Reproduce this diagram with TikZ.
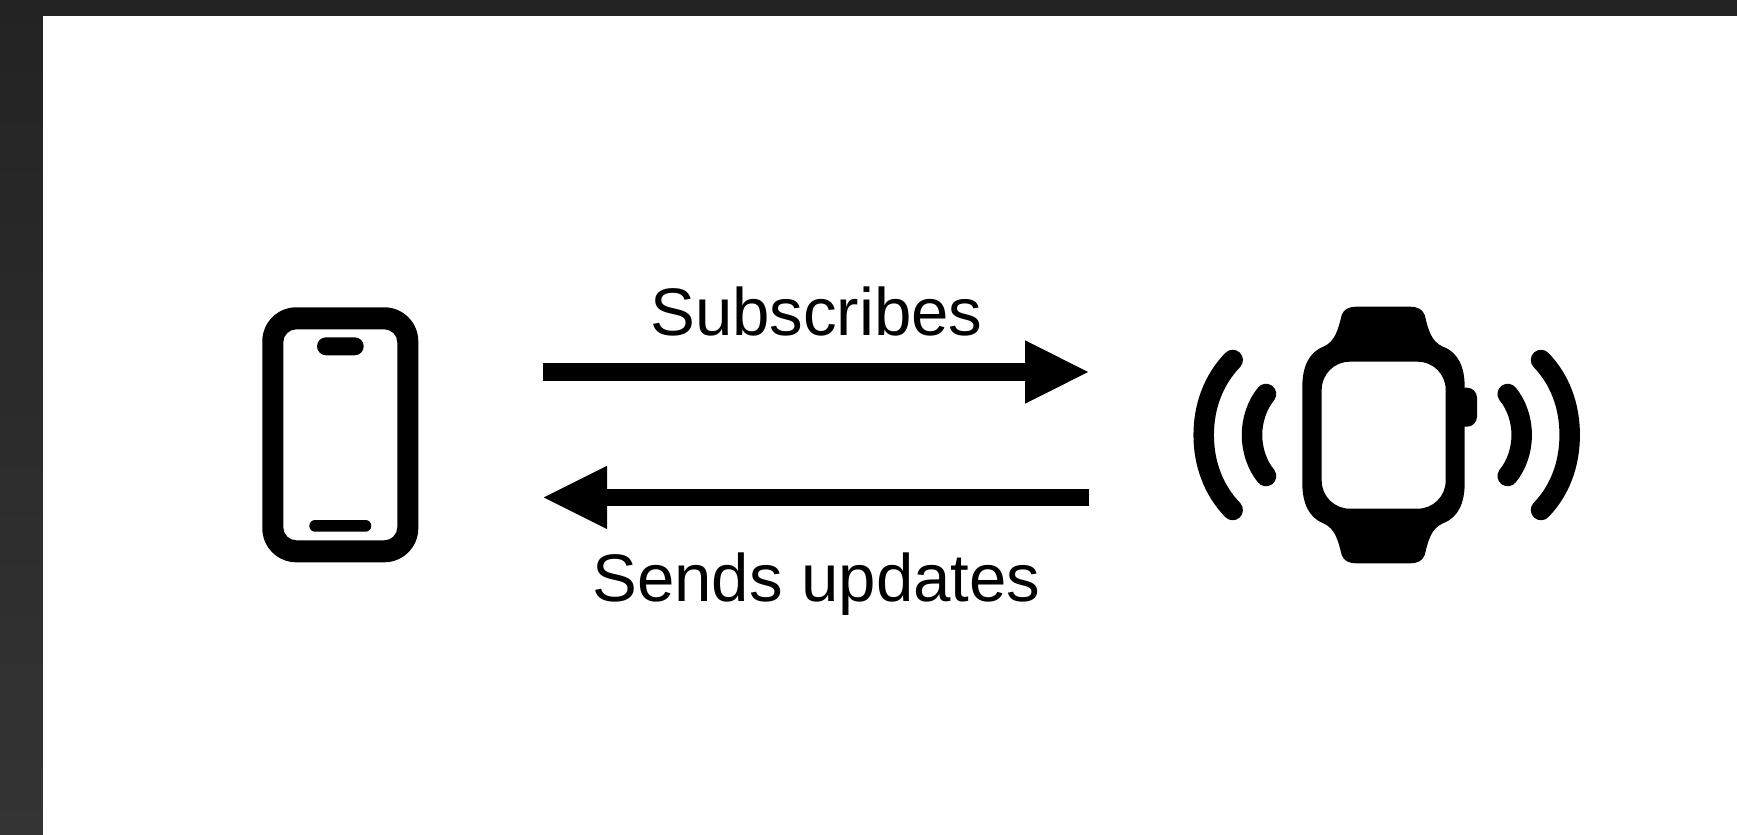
\documentclass[tikz,border=0pt]{standalone}
\usepackage{fontspec}
\setmainfont{Liberation Sans}
\usetikzlibrary{arrows.meta}
\definecolor{frameTop}{HTML}{232323}
\definecolor{frameLow}{HTML}{343434}
\begin{document}
\begin{tikzpicture}
% one unit is one pixel of the reference
\def\pxsz{0.5pt}
\providecommand{\syncShaftWidth}{8.75pt}
\providecommand{\syncWaveWidth}{10.25pt}
\providecommand{\syncLabelSize}{33.6}
\tikzset{
  shaftline/.style={line width=\syncShaftWidth, -{Triangle[length=32.5pt, width=29pt]}},
  waveline/.style={line width=\syncWaveWidth, line cap=round},
  synclabel/.style={anchor=base, inner sep=0pt, font=\fontsize{\syncLabelSize}{40}\selectfont},
}
\begin{scope}[x=\pxsz, y=-\pxsz]
  \useasboundingbox (0,0) rectangle (1737,835);
  % Window frame and page
  \fill[frameTop] (0,0) rectangle (1737,16);
  \shade[top color=frameTop, bottom color=frameLow] (0,0) rectangle (43,835);
  \fill[white] (43,16) rectangle (1737,835);
  % Phone
  \begin{scope}[even odd rule]
    \fill[rounded corners=17pt] (262.3,307.3) rectangle (418.3,562.3)
      [rounded corners=6.5pt] (283.3,329.3) rectangle (397.3,540.3);
  \end{scope}
  \fill[rounded corners=4.5pt] (317,337.3) rectangle (363.7,355.3);
  \fill[rounded corners=2.9pt] (309.3,520) rectangle (371.3,531.7);
  % Watch body with strap
  \fill[even odd rule] (1302.3,387) .. controls (1302.3,366.7) and (1309,352.3) .. (1323.3,346.7)
    .. controls (1335,341.7) and (1338,330) .. (1341.7,315)
    .. controls (1344,309.3) and (1348.3,306.7) .. (1356.7,306.7) -- (1409.7,306.7)
    .. controls (1418,306.7) and (1422.3,309.3) .. (1424.7,315)
    .. controls (1428.3,330) and (1431.3,341.7) .. (1443,346.7)
    .. controls (1458,352.3) and (1464.7,366.7) .. (1464.7,387) -- (1464.7,483)
    .. controls (1464.7,503.3) and (1458,517.7) .. (1443,523.3)
    .. controls (1431.3,528.3) and (1428.3,540) .. (1424.7,555)
    .. controls (1422.3,560.7) and (1418,563.3) .. (1409.7,563.3) -- (1356.7,563.3)
    .. controls (1348.3,563.3) and (1344,560.7) .. (1341.7,555)
    .. controls (1338,540) and (1335,528.3) .. (1323.3,523.3)
    .. controls (1309,517.7) and (1302.3,503.3) .. (1302.3,483) -- cycle
    [rounded corners=14pt] (1321.7,361.7) rectangle (1445.7,508.7);
  % Watch crown
  \fill[rounded corners=5pt] (1455,387.7) -- (1477,387.7) -- (1477,426.7) -- (1455,426.7) -- cycle;
  % Waves on both sides
  \draw[waveline] (1232.7,360) .. controls (1213.3,380) and (1203.7,406.7) .. (1203.7,435)
    .. controls (1203.7,463.3) and (1213.3,490) .. (1232.7,510);
  \draw[waveline] (1266,394) .. controls (1257,405) and (1252,420) .. (1252,435)
    .. controls (1252,450) and (1257,465) .. (1266,476);
  \draw[waveline] (1507.7,394) .. controls (1516.7,405) and (1521.7,420) .. (1521.7,435)
    .. controls (1521.7,450) and (1516.7,465) .. (1507.7,476);
  \draw[waveline] (1541,360) .. controls (1560.4,380) and (1569.7,406.7) .. (1569.7,435)
    .. controls (1569.7,463.3) and (1560.4,490) .. (1541,510);
  % Arrows and labels
  \coordinate (subStart) at (543,372);
  \coordinate (subEnd) at (1090,372);
  \coordinate (updStart) at (1089,497.4);
  \coordinate (updEnd) at (542,497.4);
  \draw[shaftline] (subStart) -- (subEnd);
  \draw[shaftline] (updStart) -- (updEnd);
  \node[synclabel] (subLabel) at (816.4,335.5) {Subscribes};
  \node[synclabel] (updLabel) at (816.5,601) {Sends updates};
\end{scope}
\end{tikzpicture}
\end{document}
